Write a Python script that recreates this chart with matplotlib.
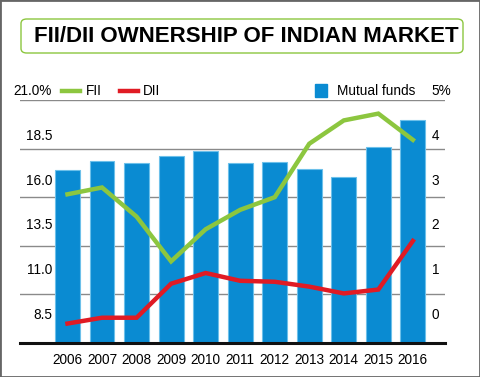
import numpy as np
import matplotlib
matplotlib.use('Agg')
import matplotlib.pyplot as plt
from matplotlib.lines import Line2D
from matplotlib.patches import Rectangle, FancyBboxPatch
from matplotlib.transforms import ScaledTranslation

plt.rcParams['font.family'] = ['Liberation Sans', 'DejaVu Sans']

years = ['2006', '2007', '2008', '2009', '2010', '2011',
         '2012', '2013', '2014', '2015', '2016']
fii = [16.15, 16.5, 15.0, 12.7, 14.35, 15.35, 16.0, 18.75, 19.95, 20.3, 18.95]
dii = [9.5, 9.8, 9.8, 11.55, 12.1, 11.7, 11.65, 11.4, 11.05, 11.25, 13.75]
mutual_funds = [3.56, 3.74, 3.70, 3.85, 3.95, 3.70, 3.72, 3.58, 3.42, 4.03, 4.59]

left_ticks = [8.5, 11.0, 13.5, 16.0, 18.5, 21.0]
left_labels = ['8.5', '11.0', '13.5', '16.0', '18.5', '21.0%']
right_ticks = [0, 1, 2, 3, 4, 5]
right_labels = ['0', '1', '2', '3', '4', '5%']

green = '#8cc63f'
red = '#e01b24'
blue = '#0a8bd2'
fs = 9.8

W, H = 480, 377
fig = plt.figure(figsize=(W / 100, H / 100), dpi=100)

# px helpers for figure coords
def fx(px):
    return px / W

def fy(py):
    return 1 - py / H

ax = fig.add_axes([fx(20), fy(343), fx(445) - fx(20), fy(100) - fy(343)])
ax2 = ax.twinx()
ax.set_zorder(2)
ax.patch.set_visible(False)

x = np.arange(len(years))
ax2.bar(x, mutual_funds, width=0.72, color=blue, edgecolor='#6cc0ea', linewidth=0.8)
ax2.set_ylim(0, 5)

ax.plot(x, fii, color=green, lw=3.2, solid_joinstyle='miter')
ax.plot(x, dii, color=red, lw=3.2, solid_joinstyle='miter')
ax.set_ylim(8.5, 21.0)
ax.set_xlim(-1.375, 10.93)

for a in (ax, ax2):
    for s in a.spines.values():
        s.set_visible(False)
    a.tick_params(length=0)
    a.set_yticks([])

for t in left_ticks:
    ax2.axhline((t - 8.5) / 2.5, color='#8a8a8a', lw=1.0, zorder=0)
ax.spines['bottom'].set_visible(True)
ax.spines['bottom'].set_linewidth(2.2)
ax.spines['bottom'].set_color('#111111')

ax.set_xticks(x)
ax.set_xticklabels(years, fontsize=fs)
ax.tick_params(axis='x', pad=7)

# tick labels sit above their gridlines, drifting with height
ytr = ax.get_yaxis_transform()
for i, (t, lab) in enumerate(zip(left_ticks, left_labels)):
    off = (28 - i * 3.8) * 0.72
    ax.text(0.0753, t, lab, transform=ytr + ScaledTranslation(0, off / 72, fig.dpi_scale_trans),
            ha='right', va='center', fontsize=fs)
ytr2 = ax2.get_yaxis_transform()
for i, (t, lab) in enumerate(zip(right_ticks, right_labels)):
    off = (28 - i * 3.8) * 0.72
    ax2.text(0.969, t, lab, transform=ytr2 + ScaledTranslation(0, off / 72, fig.dpi_scale_trans),
             ha='left', va='center', fontsize=fs)

# legend row
ly = fy(91)
fig.add_artist(Line2D([fx(62), fx(80)], [ly, ly], color=green, lw=3.2))
fig.text(fx(86), ly, 'FII', ha='left', va='center', fontsize=fs)
fig.add_artist(Line2D([fx(120), fx(138)], [ly, ly], color=red, lw=3.2))
fig.text(fx(143), ly, 'DII', ha='left', va='center', fontsize=fs)
fig.add_artist(Rectangle((fx(315), fy(97)), fx(12), fy(84) - fy(97), color=blue,
                         transform=fig.transFigure))
fig.text(fx(337), ly, 'Mutual funds', ha='left', va='center', fontsize=fs)

# title box
fig.add_artist(FancyBboxPatch((fx(21), fy(53)), fx(442), fy(19) - fy(53),
                              boxstyle='round,pad=0,rounding_size=0.012',
                              transform=fig.transFigure, fc='none', ec=green, lw=1.0))
fig.text(fx(246), fy(37), 'FII/DII OWNERSHIP OF INDIAN MARKET', ha='center', va='center',
         fontsize=16, fontweight='bold')

fig.add_artist(Rectangle((0, 0), 1, 1, transform=fig.transFigure, fc='none',
                         ec='#666666', lw=2))

fig.savefig('out.png', dpi=100)
